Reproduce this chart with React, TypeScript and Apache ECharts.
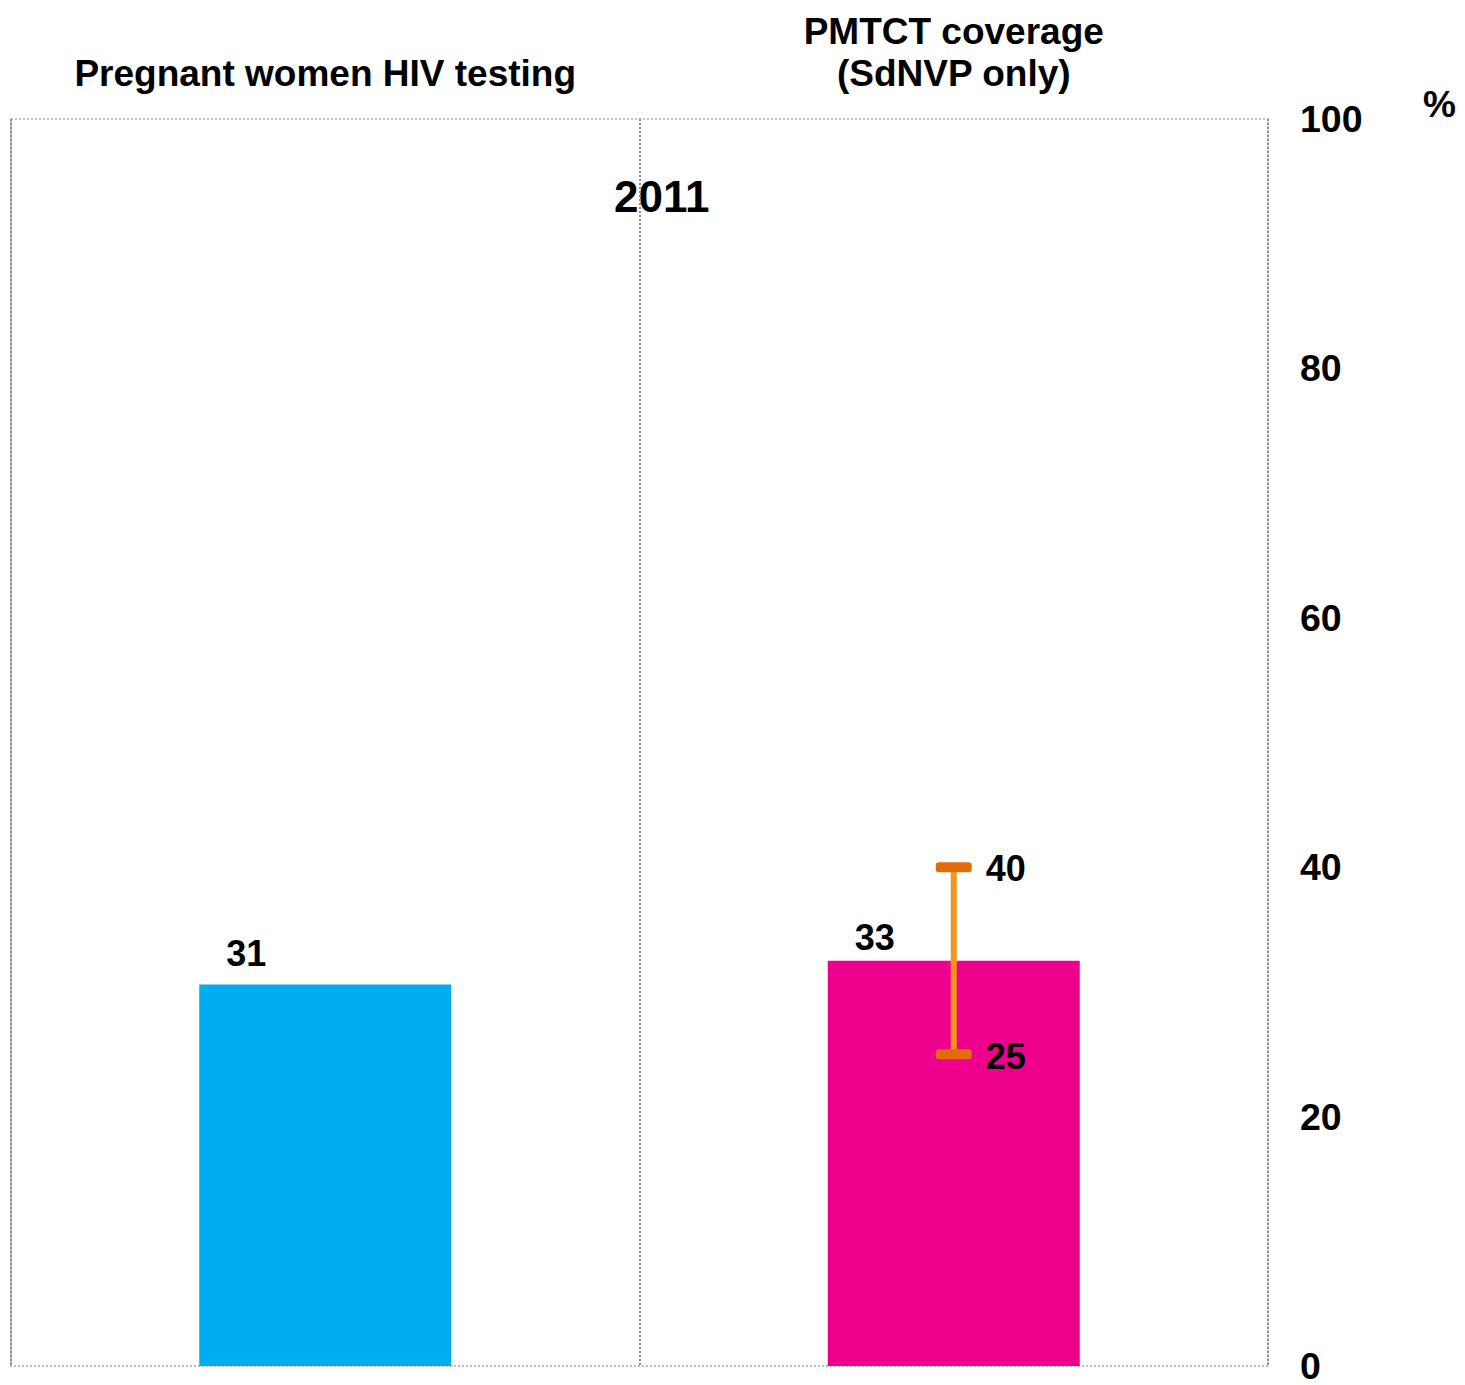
import React, { useEffect, useRef } from "react";
import * as echarts from "echarts";

const categories = ["Pregnant women HIV testing", "PMTCT coverage\n(SdNVP only)"];
const barValues = [30.6, 32.5];
const barColors = ["#00AEEF", "#EC008C"];
const errorBars = [[1, 25, 40]];
const yearLabel = "2011";
const unitLabel = "%";

const FONT = 'Arial, "Liberation Sans", sans-serif';
const labelDistances = [13, 5];

export default function App() {
  const ref = useRef<HTMLDivElement>(null);
  useEffect(() => {
    if (!ref.current) return;
    const chart = echarts.init(ref.current, null, { renderer: "svg" });
    chart.setOption({
      animation: false,
      backgroundColor: "#fff",
      textStyle: { fontFamily: FONT },
      grid: {
        left: 11,
        right: 197,
        top: 119,
        bottom: 19,
        show: true,
        borderColor: "#bdbdbd",
        borderWidth: 2,
        borderType: "dotted",
      },
      graphic: [
        {
          type: "text",
          left: 614,
          top: 174,
          style: { text: yearLabel, fontSize: 44, fontWeight: "bold", fontFamily: FONT, fill: "#000" },
        },
        {
          type: "text",
          left: 1423,
          top: 86,
          style: { text: unitLabel, fontSize: 37, fontWeight: "bold", fontFamily: FONT, fill: "#000" },
        },
      ],
      xAxis: {
        type: "category",
        position: "top",
        data: categories,
        axisLine: { show: false },
        axisTick: { show: false },
        splitLine: { show: true, lineStyle: { color: "#8c8c8c", width: 2, type: "dotted" } },
        axisLabel: {
          interval: 0,
          margin: 25,
          fontSize: 37,
          fontWeight: "bold",
          lineHeight: 42,
          color: "#000",
          fontFamily: FONT,
        },
      },
      yAxis: {
        type: "value",
        position: "right",
        min: 0,
        max: 100,
        interval: 20,
        axisLine: { show: false },
        axisTick: { show: false },
        splitLine: { show: false },
        axisLabel: {
          margin: 32,
          fontSize: 37.5,
          lineHeight: 30,
          fontWeight: "bold",
          color: "#000",
          align: "left",
          fontFamily: FONT,
        },
      },
      series: [
        {
          type: "bar",
          barWidth: 252,
          data: barValues.map((v, i) => ({
            value: v,
            itemStyle: { color: barColors[i] },
            label: { distance: labelDistances[i] },
          })),
          label: {
            show: true,
            position: "top",
            offset: [-79, 0],
            fontSize: 36,
            fontWeight: "bold",
            color: "#000",
            fontFamily: FONT,
            formatter: (p: any) => String(Math.round(p.value)),
          },
        },
        {
          type: "custom",
          data: errorBars,
          z: 10,
          renderItem: (params: any, api: any) => {
            const lo = api.coord([api.value(0), api.value(1)]);
            const hi = api.coord([api.value(0), api.value(2)]);
            const cx = lo[0];
            const txt = (t: string, y: number) => ({
              type: "text",
              style: {
                text: t,
                x: cx + 32,
                y,
                verticalAlign: "middle",
                fontSize: 36,
                fontWeight: "bold",
                fontFamily: FONT,
                fill: "#000",
              },
            });
            return {
              type: "group",
              children: [
                {
                  type: "line",
                  shape: { x1: cx, y1: lo[1], x2: cx, y2: hi[1] },
                  style: { stroke: "#F7941D", lineWidth: 6 },
                },
                {
                  type: "rect",
                  shape: { x: cx - 18, y: hi[1] - 5, width: 36, height: 10, r: 3 },
                  style: { fill: "#E36C0A" },
                },
                {
                  type: "rect",
                  shape: { x: cx - 18, y: lo[1] - 5, width: 36, height: 10, r: 3 },
                  style: { fill: "#E36C0A" },
                },
                txt(String(api.value(2)), hi[1] + 1),
                txt(String(api.value(1)), lo[1] + 2),
              ],
            };
          },
        },
      ],
    });
    return () => chart.dispose();
  }, []);
  return (
    <div
      ref={ref}
      style={{ position: "absolute", left: 0, top: 0, width: 1465, height: 1385 }}
    />
  );
}
